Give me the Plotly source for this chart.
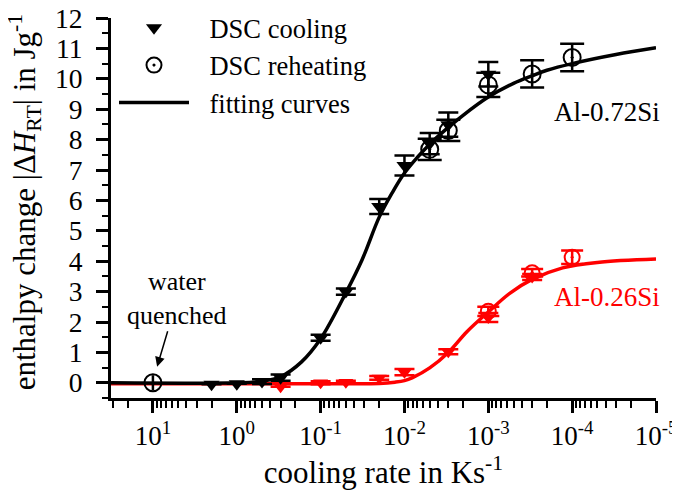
import plotly.graph_objects as go

# ---------------- data ----------------
# Al-0.72Si
cool_rate_072 = [2, 1, 0.5, 0.3, 0.1, 0.05, 0.02, 0.01, 0.005, 0.003, 0.001]
cool_dh_072 = [-0.05, -0.03, 0.04, 0.17, 1.48, 3.0, 5.8, 7.15, 7.87, 8.49, 10.15]
cool_err_072 = [0, 0, 0.08, 0.1, 0.1, 0.1, 0.25, 0.33, 0.35, 0.4, 0.4]

reheat_rate_072 = [0.005, 0.003, 0.001, 3e-4, 1e-4]
reheat_dh_072 = [7.68, 8.3, 9.8, 10.16, 10.7]
reheat_err_072 = [0.35, 0.35, 0.4, 0.45, 0.45]

wq_rate = [10]
wq_dh = [0.0]
wq_err = [0.25]

fit_rate_072 = [31.6, 1, 0.5, 0.3, 0.17, 0.1, 0.05, 0.032, 0.02, 0.014, 0.01, 0.007,
                0.005, 0.003, 0.002, 0.001, 5e-4, 3e-4, 2e-4, 1e-4, 3e-5, 1e-5]
fit_dh_072 = [0, 0, 0.05, 0.2, 0.68, 1.45, 2.96, 4.05, 5.45, 6.25, 6.9, 7.42,
              7.85, 8.4, 8.8, 9.4, 9.85, 10.1, 10.28, 10.5, 10.8, 11.02]

# Al-0.26Si
cool_rate_026 = [0.3, 0.1, 0.05, 0.02, 0.01, 0.003, 0.001, 3e-4]
cool_dh_026 = [-0.13, 0.0, 0.02, 0.16, 0.35, 1.02, 2.15, 3.48]
cool_err_026 = [0.0, 0.05, 0.05, 0.06, 0.1, 0.08, 0.15, 0.1]

reheat_rate_026 = [0.001, 3e-4, 1e-4]
reheat_dh_026 = [2.35, 3.62, 4.13]
reheat_err_026 = [0.15, 0.12, 0.22]

fit_rate_026 = [31.6, 0.05, 0.02, 0.013, 0.01, 0.008, 0.005, 0.003, 0.0018,
                0.001, 5.5e-4, 3e-4, 1.3e-4, 5e-5, 1e-5]
fit_dh_026 = [-0.03, -0.03, -0.02, 0.02, 0.07, 0.17, 0.49, 1.0, 1.68,
              2.33, 2.95, 3.4, 3.78, 3.96, 4.07]

x_tick_vals = [10, 1, 0.1, 0.01, 0.001, 1e-4, 1e-5]
x_tick_text = ["10<sup>1</sup>", "10<sup>0</sup>", "10<sup>-1</sup>", "10<sup>-2</sup>",
               "10<sup>-3</sup>", "10<sup>-4</sup>", "10<sup>-5</sup>"]
y_tick_vals = list(range(0, 13))

legend_names = ["\u2002\u200aDSC cooling", "\u2002\u200aDSC reheating", "\u2002\u200afitting curves"]

# ---------------- styling ----------------
FONT = "Liberation Serif"
BLACK = "#000000"
RED = "#ff0000"

fig = go.Figure()


def add_fit(x, y, color):
    fig.add_trace(go.Scatter(x=x, y=y, mode="lines",
                             line=dict(color=color, width=3.5, shape="spline", smoothing=1.0),
                             showlegend=False, hoverinfo="skip"))


def add_pts(x, y, err, color, symbol, size, capw, lw=2):
    fig.add_trace(go.Scatter(
        x=x, y=y, mode="markers",
        marker=dict(symbol=symbol, size=size, color=color, line=dict(color=color, width=lw)),
        error_y=dict(type="data", array=err, visible=True, color=color, thickness=2.5, width=capw),
        showlegend=False))


# red (Al-0.26Si) first
add_fit(fit_rate_026, fit_dh_026, RED)
add_pts(cool_rate_026, cool_dh_026, cool_err_026, RED, "triangle-down", 13, 10, 0)
add_pts(reheat_rate_026, reheat_dh_026, reheat_err_026, RED, "circle-open-dot", 15, 11)

# black (Al-0.72Si)
add_fit(fit_rate_072, fit_dh_072, BLACK)
add_pts(cool_rate_072, cool_dh_072, cool_err_072, BLACK, "triangle-down", 14, 10, 0)
add_pts(reheat_rate_072, reheat_dh_072, reheat_err_072, BLACK, "circle-open-dot", 17, 12)
add_pts(wq_rate, wq_dh, wq_err, BLACK, "circle-open", 17, 0)

# legend-only entries
fig.add_trace(go.Scatter(x=[None], y=[None], mode="markers", name=legend_names[0],
                         marker=dict(symbol="triangle-down", size=14, color=BLACK, line=dict(width=0))))
fig.add_trace(go.Scatter(x=[None], y=[None], mode="markers", name=legend_names[1],
                         marker=dict(symbol="circle-open-dot", size=15, color=BLACK,
                                     line=dict(color=BLACK, width=2))))
fig.add_trace(go.Scatter(x=[None], y=[None], mode="lines", name=legend_names[2],
                         line=dict(color=BLACK, width=3.5)))

minor_x = [k * 10.0 ** d for d in range(-5, 2) for k in range(2, 10)]
minor_x = [v for v in minor_x if v <= 31.6]

fig.update_xaxes(
    type="log", range=[1.5, -5], showgrid=False, zeroline=False, automargin=False,
    showline=True, linewidth=3, linecolor=BLACK,
    ticks="outside", ticklen=12, tickwidth=3, tickcolor=BLACK,
    tickvals=x_tick_vals, ticktext=x_tick_text, ticklabeloverflow="allow",
    tickfont=dict(family=FONT, size=27, color=BLACK),
    minor=dict(ticks="outside", ticklen=7, tickwidth=2, tickcolor=BLACK, tickvals=minor_x, showgrid=False),
    title=dict(text="cooling rate in Ks<sup>-1</sup>", font=dict(family=FONT, size=31, color=BLACK), standoff=0),
)
fig.update_yaxes(
    range=[-0.5, 12], showgrid=False, zeroline=False, automargin=False,
    showline=True, linewidth=3, linecolor=BLACK,
    ticks="outside", ticklen=12, tickwidth=3, tickcolor=BLACK,
    tickvals=y_tick_vals, ticklabelstandoff=8, ticklabeloverflow="allow",
    tickfont=dict(family=FONT, size=27.5, color=BLACK),
    minor=dict(ticks="outside", ticklen=6, tickwidth=2, tickcolor=BLACK, dtick=0.5, showgrid=False),
)

# the page body adds an 8px offset, so the figure is drawn 8px smaller
fig.update_layout(
    width=672, height=485,
    margin=dict(l=103, r=24, t=10, b=95, autoexpand=False),
    plot_bgcolor="white", paper_bgcolor="white",
    font=dict(family=FONT, color=BLACK),
    showlegend=True,
    legend=dict(x=0.0055, y=1.037, xanchor="left", yanchor="top",
                bgcolor="rgba(0,0,0,0)",
                font=dict(family=FONT, size=26.5, color=BLACK), itemwidth=70, tracegroupgap=0),
    annotations=[
        dict(x=0, y=0.515, xref="paper", yref="paper", xshift=-86, textangle=-90,
             xanchor="center", yanchor="middle", showarrow=False,
             text="enthalpy change |Δ<i>H</i><sub>RT</sub>| in Jg<sup>-1</sup>",
             font=dict(family=FONT, size=31, color=BLACK)),
        dict(x=-4.42, y=8.9, xref="x", yref="y", text="Al-0.72Si", showarrow=False,
             font=dict(family=FONT, size=27, color=BLACK)),
        dict(x=-4.42, y=2.83, xref="x", yref="y", text="Al-0.26Si", showarrow=False,
             font=dict(family=FONT, size=27, color=RED)),
        dict(x=0.71, y=2.77, xref="x", yref="y", text="water<br>quenched", showarrow=False,
             font=dict(family=FONT, size=26, color=BLACK)),
        dict(x=0.95, y=0.53, xref="x", yref="y", text="", showarrow=True,
             ax=11, ay=-37, arrowhead=2, arrowsize=1.3, arrowwidth=1.5, arrowcolor=BLACK),
    ],
)

fig.write_html("out.html")
